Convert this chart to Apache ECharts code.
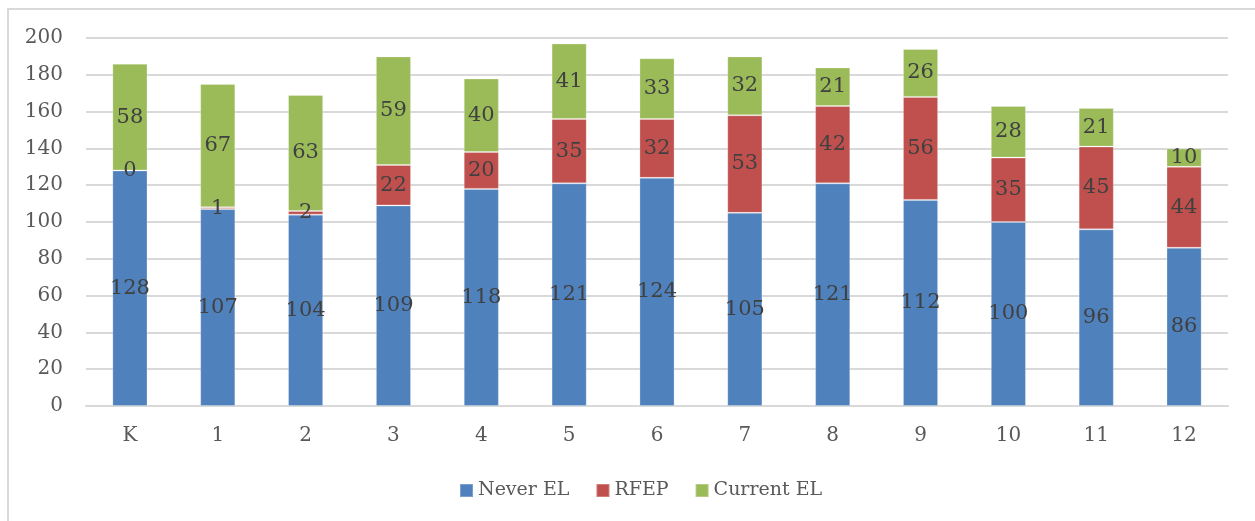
<!DOCTYPE html>
<html>
<head>
<meta charset="utf-8">
<script src="https://cdn.jsdelivr.net/npm/echarts@6/dist/echarts.min.js"></script>
<style>
  html, body { margin: 0; padding: 0; background: #ffffff; }
  #frame { position: absolute; left: 7px; top: 8px; width: 1250px; height: 530px; border: 2px solid #d9d9d9; box-sizing: border-box; background:#fff; }
  #chart { position: absolute; left: 0; top: 0; width: 1255px; height: 521px; }
</style>
</head>
<body>
<div id="frame"></div>
<div id="chart"></div>
<script>
const categories = ['K', '1', '2', '3', '4', '5', '6', '7', '8', '9', '10', '11', '12'];
const neverEL   = [128, 107, 104, 109, 118, 121, 124, 105, 121, 112, 100, 96, 86];
const rfep      = [0, 1, 2, 22, 20, 35, 32, 53, 42, 56, 35, 45, 44];
const currentEL = [58, 67, 63, 59, 40, 41, 33, 32, 21, 26, 28, 21, 10];
const yTicks    = [0, 20, 40, 60, 80, 100, 120, 140, 160, 180, 200];

const FONT = 'DejaVu Serif';
const chart = echarts.init(document.getElementById('chart'), null, { renderer: 'canvas' });

function mkSeries(name, data, color) {
  return {
    name: name,
    type: 'bar',
    stack: 'total',
    data: data,
    barWidth: '40%',
    itemStyle: { color: color, borderColor: 'rgba(255,255,255,0.25)', borderWidth: 1 },
    label: {
      show: true,
      position: 'inside',
      color: '#404040',
      fontFamily: FONT,
      fontSize: 21
    },
    emphasis: { disabled: true }
  };
}

chart.setOption({
  backgroundColor: 'transparent',
  animation: false,
  grid: { left: 86, right: 27, top: 38, bottom: 115, containLabel: false },
  legend: {
    bottom: 16,
    left: 454,
    itemWidth: 13,
    itemHeight: 13,
    itemGap: 26,
    icon: 'rect',
    textStyle: { color: '#595959', fontFamily: FONT, fontSize: 19 },
    data: ['Never EL', 'RFEP', 'Current EL']
  },
  xAxis: {
    type: 'category',
    data: categories,
    axisLine: { lineStyle: { color: '#d9d9d9', width: 2 } },
    axisTick: { show: false },
    axisLabel: { color: '#595959', fontFamily: FONT, fontSize: 20, margin: 20 }
  },
  yAxis: {
    type: 'value',
    min: yTicks[0],
    max: yTicks[yTicks.length - 1],
    interval: yTicks[1] - yTicks[0],
    axisLine: { show: false },
    axisTick: { show: false },
    splitLine: { lineStyle: { color: '#d9d9d9', width: 2 } },
    axisLabel: { color: '#595959', fontFamily: FONT, fontSize: 20, margin: 23 }
  },
  series: [
    mkSeries('Never EL', neverEL, '#4F81BD'),
    mkSeries('RFEP', rfep, '#C0504D'),
    mkSeries('Current EL', currentEL, '#9BBB59')
  ]
});
</script>
</body>
</html>
